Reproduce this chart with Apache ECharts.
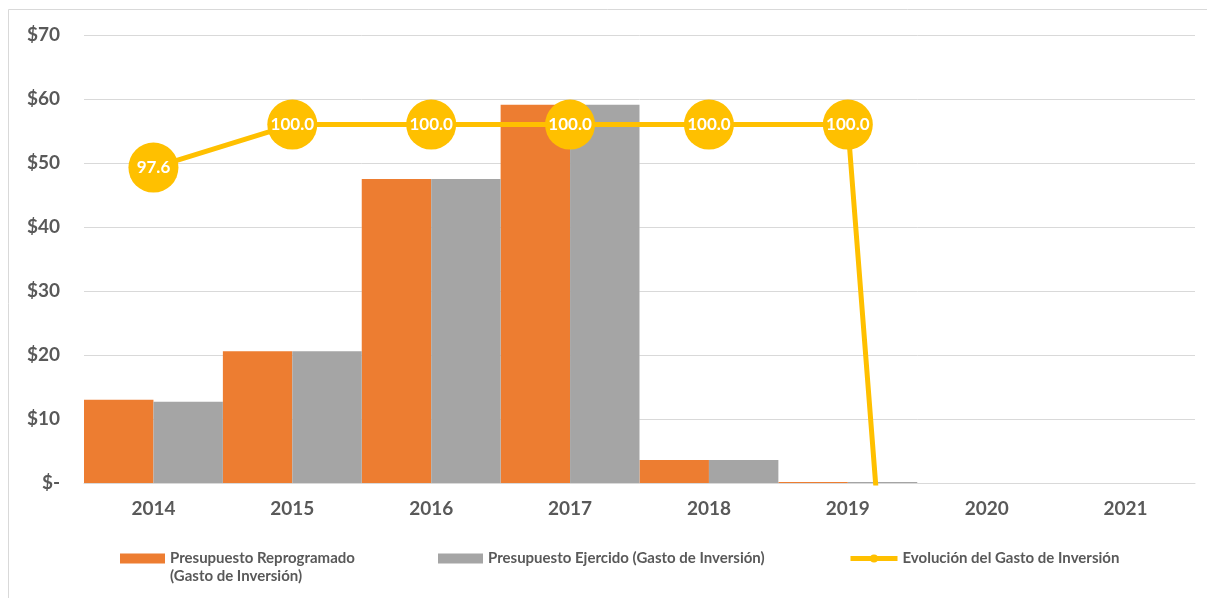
<!DOCTYPE html>
<html>
<head>
<meta charset="utf-8">
<script src="https://cdn.jsdelivr.net/npm/echarts@6/dist/echarts.min.js"></script>
<style>
html,body{margin:0;padding:0;background:#fff;}
#c{width:1207px;height:598px;}
</style>
</head>
<body>
<div id="c"></div>
<script>
const years = ['2014','2015','2016','2017','2018','2019','2020','2021'];
const reprogramado = [13.0, 20.6, 47.5, 59.1, 3.6, 0.15, 0, 0];
const ejercido = [12.7, 20.6, 47.5, 59.1, 3.6, 0.15, 0, 0];
const evolucion = [97.6, 100.0, 100.0, 100.0, 100.0, 100.0, 0, 0];
const yTicks = ['$-', '$10', '$20', '$30', '$40', '$50', '$60', '$70'];

const FONT = 'Lato, "Open Sans", sans-serif';
const TXT = '#595959';
const ORANGE = '#ED7D31';
const GRAY = '#A5A5A5';
const YELLOW = '#FFC000';

const chart = echarts.init(document.getElementById('c'));
chart.setOption({
  animation: false,
  backgroundColor: '#fff',
  textStyle: { fontFamily: FONT },
  grid: { left: 84, right: 12, top: 35, bottom: 115, containLabel: false },
  xAxis: {
    type: 'category',
    data: years,
    axisLine: { lineStyle: { color: '#D9D9D9', width: 1 } },
    axisTick: { show: false },
    axisLabel: { color: TXT, fontWeight: 'bold', fontSize: 19, fontFamily: FONT, margin: 16 }
  },
  yAxis: [{
    type: 'value', min: 0, max: 70, interval: 10,
    axisLine: { show: false }, axisTick: { show: false },
    splitLine: { lineStyle: { color: '#D9D9D9', width: 1 } },
    axisLabel: {
      color: TXT, fontWeight: 'bold', fontSize: 19, fontFamily: FONT, margin: 24,
      formatter: function (v) { return yTicks[Math.round(v / 10)]; }
    }
  }, {
    type: 'value', min: 80, max: 105, show: false,
    splitLine: { show: false }
  }],
  legend: [{
    data: [{ name: 'Presupuesto Reprogramado (Gasto de Inversión)' }],
    formatter: function () { return 'Presupuesto Reprogramado'; },
    left: 120, top: 551, padding: 0, itemWidth: 45, itemHeight: 10, itemGap: 5,
    icon: 'rect',
    textStyle: { color: TXT, fontWeight: 'bold', fontSize: 15, fontFamily: FONT }
  }, {
    data: [{ name: 'Presupuesto Ejercido (Gasto de Inversión)' }],
    left: 438, top: 551, padding: 0, itemWidth: 45, itemHeight: 10,
    icon: 'rect',
    textStyle: { color: TXT, fontWeight: 'bold', fontSize: 15, fontFamily: FONT }
  }, {
    data: [{ name: 'Evolución del Gasto de Inversión' }],
    left: 848, top: 551, padding: 0, itemWidth: 47, itemHeight: 10,
    lineStyle: { width: 5 },
    textStyle: { color: TXT, fontWeight: 'bold', fontSize: 15, fontFamily: FONT }
  }],
  graphic: [{
    type: 'text', left: 170, top: 569,
    style: { text: '(Gasto de Inversión)', fill: TXT, font: 'bold 15px ' + FONT }
  }, {
    type: 'polyline', silent: true,
    shape: { points: [[8.5, 598], [8.5, 9.5], [1207, 9.5]] },
    style: { stroke: '#D9D9D9', lineWidth: 1, fill: null }
  }],
  series: [{
    name: 'Presupuesto Reprogramado (Gasto de Inversión)',
    type: 'bar', data: reprogramado,
    itemStyle: { color: ORANGE },
    barGap: '0%', barCategoryGap: '0%'
  }, {
    name: 'Presupuesto Ejercido (Gasto de Inversión)',
    type: 'bar', data: ejercido,
    itemStyle: { color: GRAY },
    barGap: '0%', barCategoryGap: '0%'
  }, {
    name: 'Evolución del Gasto de Inversión',
    type: 'line', yAxisIndex: 1, data: evolucion,
    clip: true,
    symbol: 'circle', symbolSize: 50,
    lineStyle: { color: YELLOW, width: 5 },
    itemStyle: { color: YELLOW },
    label: {
      show: true, position: 'inside', color: '#fff', fontWeight: 'bold', fontSize: 17, fontFamily: FONT,
      formatter: function (p) { return p.value.toFixed(1); }
    },
    z: 5
  }]
});
</script>
</body>
</html>
